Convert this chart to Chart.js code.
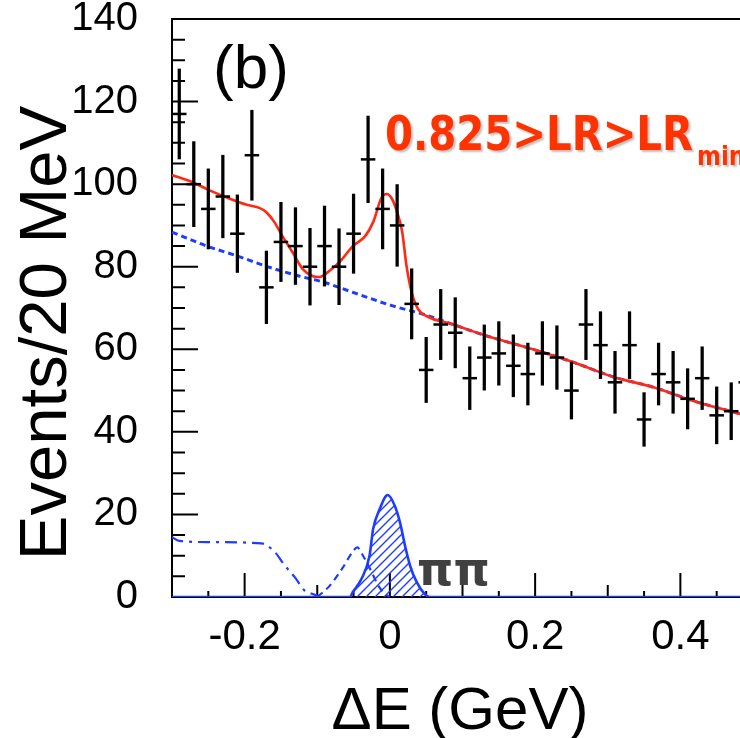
<!DOCTYPE html>
<html>
<head>
<meta charset="utf-8">
<script src="https://cdn.jsdelivr.net/npm/chart.js@4.4.1/dist/chart.umd.min.js"></script>
<style>
html,body{margin:0;padding:0;overflow:hidden;background:#fff;width:740px;height:738px;}
#wrap{position:absolute;left:0;top:0;width:765px;height:738px;}
canvas{display:block;}
</style>
</head>
<body>
<div id="wrap"><canvas id="c" width="765" height="738"></canvas></div>
<script>
// ---- data ----
const X_BINS = [-0.29,-0.27,-0.25,-0.23,-0.21,-0.19,-0.17,-0.15,-0.13,-0.11,
                -0.09,-0.07,-0.05,-0.03,-0.01,0.01,0.03,0.05,0.07,0.09,
                0.11,0.13,0.15,0.17,0.19,0.21,0.23,0.25,0.27,0.29,
                0.31,0.33,0.35,0.37,0.39,0.41,0.43,0.45,0.47,0.49];
const EVENTS = [117,100,94,97,88,107,75,86,85,80,
                85,80,88,106,94,90,71,55,66,64,
                53,58,59,56,54,59,58,50,66,61,
                52,61,43,54,52,48,53,44,45,52];
const ERRORS = [10.9,10.3,9.7,10,9.4,10.9,8.8,9.6,9.3,9.3,
                9.7,9.2,9.6,10.5,9.7,9.9,8.5,7.9,8.5,8.5,
                7.6,7.9,7.7,7.5,7.5,7.7,7.7,6.9,8.5,8.1,
                7.5,8.1,6.5,7.5,7.5,7.3,7.6,6.9,6.9,7.2];

// total fit (red)
const FIT_X = [-0.300,-0.272,-0.252,-0.225,-0.197,-0.179,-0.170,-0.159,-0.148,-0.134,
               -0.120,-0.106,-0.097,-0.083,-0.066,-0.051,-0.034,-0.023,-0.011,-0.004,
               0.003,0.010,0.017,0.023,0.030,0.039,0.051,0.087,0.134,0.197,
               0.252,0.308,0.363,0.418,0.473,0.500];
const FIT_Y = [102.2,100.5,98.8,96.8,95.0,94.2,93.2,90.8,87.4,83.5,
               79.4,77.7,77.5,79.0,81.8,85.0,87.4,90.8,96.9,97.6,
               96.4,93.2,88.4,80.1,73.8,69.7,68.0,66.0,63.2,60.0,
               56.9,53.3,50.8,47.5,44.8,43.5];

// background (blue dotted)
const BKG_X = [-0.300,-0.252,-0.210,-0.170,-0.124,-0.092,-0.051,0.004,0.046,
               0.087,0.134,0.197,0.252,0.308,0.363,0.418,0.473,0.500];
const BKG_Y = [88.4,85.0,82.6,80.1,77.7,76.3,73.8,70.5,68.5,
               66.0,63.2,60.0,56.9,53.3,50.8,47.5,44.8,43.5];

// pi pi signal (blue, hatched)
const PIPI_X = [-0.300,-0.055,-0.051,-0.039,-0.028,-0.023,-0.014,-0.003,0.007,0.014,
                0.021,0.028,0.037,0.048,0.055,0.500];
const PIPI_Y = [0,0,1.2,4.4,10.0,16.5,21.3,24.7,22.0,18.0,
                12.3,7.5,3.6,0.7,0,0];

// K pi reflection (blue dashed)
const KPI_X = [-0.100,-0.083,-0.066,-0.051,-0.045,-0.036,-0.025,-0.015,-0.005,0.000];
const KPI_Y = [0,2.7,6.8,11.0,12.0,9.7,6.0,2.5,0.5,0];

// other background component (blue dash-dot)
const OTH_X = [-0.300,-0.290,-0.250,-0.177,-0.159,-0.145,-0.131,-0.117,-0.106,-0.097];
const OTH_Y = [14.5,13.6,13.3,13.0,11.0,7.7,4.8,1.5,0.7,0];

const X_TICK_LABELS = [-0.2, 0, 0.2, 0.4];
const Y_TICK_LABELS = [0, 20, 40, 60, 80, 100, 120, 140];

// ---- styles ----
const RED = '#ff2a14';
const BLUE = '#1e3cff';

function pts(xs, ys){ return xs.map((x,i)=>({x:x, y:ys[i]})); }

function hatch(){
  const c = document.createElement('canvas');
  c.width = 9; c.height = 9;
  const g = c.getContext('2d');
  g.strokeStyle = BLUE; g.lineWidth = 1.4;
  g.beginPath();
  g.moveTo(-1, 10); g.lineTo(10, -1);
  g.moveTo(-1, 1); g.lineTo(1, -1);
  g.moveTo(8, 10); g.lineTo(10, 8);
  g.stroke();
  return g.createPattern(c, 'repeat');
}

const frame = {
  id: 'frame',
  beforeDatasetsDraw(chart){
    const {ctx, chartArea:a, scales:{x, y}} = chart;
    ctx.save();
    ctx.strokeStyle = '#000'; ctx.lineWidth = 2;
    ctx.beginPath();
    ctx.moveTo(a.left-1, a.top); ctx.lineTo(a.right, a.top);
    for (let k = 0; k <= 28; k++){
      const py = y.getPixelForValue(k*5);
      const len = (k % 4 === 0) ? 26 : 13;
      ctx.moveTo(a.left, py); ctx.lineTo(a.left+len, py);
    }
    for (let k = -6; k <= 10; k++){
      const px = x.getPixelForValue(k*0.05);
      const len = (k % 4 === 0) ? 24 : ((k % 2 === 0) ? 12 : 6);
      ctx.moveTo(px, a.bottom); ctx.lineTo(px, a.bottom-len);
    }
    ctx.stroke();
    ctx.restore();
  },
  afterDraw(chart){
    const ctx = chart.ctx;
    ctx.save();
    // y title
    ctx.fillStyle = '#000';
    ctx.font = '67px "Liberation Sans", Arial, sans-serif';
    ctx.translate(66, 333);
    ctx.rotate(-Math.PI/2);
    ctx.textAlign = 'center'; ctx.textBaseline = 'alphabetic';
    ctx.fillText('Events/20 MeV', 0, 0);
    ctx.restore();

    ctx.save();
    ctx.fillStyle = '#000';
    ctx.font = '60px "Liberation Sans", Arial, sans-serif';
    ctx.textAlign = 'center'; ctx.textBaseline = 'alphabetic';
    ctx.fillText('\u0394E (GeV)', 460, 729);

    ctx.textAlign = 'left';
    ctx.font = '62px "Liberation Sans", Arial, sans-serif';
    ctx.fillText('(b)', 213, 88);

    ctx.fillStyle = '#404040';
    ctx.font = 'bold 46px "DejaVu Sans", sans-serif';
    ctx.fillText('\u03c0\u03c0', 417, 585);

    // red label
    ctx.shadowColor = 'rgba(0,0,0,0.25)';
    ctx.shadowOffsetX = 2; ctx.shadowOffsetY = 2; ctx.shadowBlur = 2;
    ctx.fillStyle = '#ff3300';
    ctx.font = 'bold 48px "DejaVu Sans", sans-serif';
    const main = '0.825>LR>LR';
    const w = ctx.measureText(main).width;
    const sx = 308 / w;
    ctx.save();
    ctx.translate(385, 150);
    ctx.scale(sx, 1);
    ctx.fillText(main, 0, 0);
    ctx.restore();
    ctx.font = 'bold 27px "DejaVu Sans", sans-serif';
    ctx.save();
    ctx.translate(697, 165);
    ctx.scale(0.85, 1);
    ctx.fillText('min', 0, 0);
    ctx.restore();
    ctx.restore();
  }
};

const ctx = document.getElementById('c').getContext('2d');
new Chart(ctx, {
  type: 'scatter',
  data: {
    datasets: [
      { type:'scatter', label:'data', data: pts(X_BINS, EVENTS), showLine:false,
        pointStyle:'line', pointRadius:7.25, pointHoverRadius:7.25,
        borderColor:'#000', pointBorderWidth:2.5, borderWidth:2.5, order:1 },
      { type:'bar', label:'errors',
        data: X_BINS.map((x,i)=>({x:x, y:[EVENTS[i]-ERRORS[i], EVENTS[i]+ERRORS[i]]})),
        backgroundColor:'#000', borderWidth:0, barThickness:2.6, grouped:false, order:2 },
      { type:'line', label:'total fit', data: pts(FIT_X, FIT_Y), borderColor:RED,
        borderWidth:2.6, pointRadius:0, cubicInterpolationMode:'monotone', fill:false, order:3 },
      { type:'line', label:'background', data: pts(BKG_X, BKG_Y), borderColor:BLUE,
        borderWidth:3, borderDash:[6,4], pointRadius:0, cubicInterpolationMode:'monotone', fill:false, order:4 },
      { type:'line', label:'K pi', data: pts(KPI_X, KPI_Y), borderColor:BLUE,
        borderWidth:2.2, borderDash:[7,5], pointRadius:0, cubicInterpolationMode:'monotone', fill:false, order:5 },
      { type:'line', label:'other', data: pts(OTH_X, OTH_Y), borderColor:BLUE,
        borderWidth:2.2, borderDash:[12,6,3,6], pointRadius:0, cubicInterpolationMode:'monotone', fill:false, order:5 },
      { type:'line', label:'pi pi', data: pts(PIPI_X, PIPI_Y), borderColor:BLUE,
        borderWidth:2.6, pointRadius:0, cubicInterpolationMode:'monotone',
        fill:'origin', backgroundColor: hatch(), order:6 }
    ]
  },
  options: {
    responsive:false, animation:false, devicePixelRatio:1,
    layout:{ padding:{ top:19, left:0, right:12, bottom:0 } },
    plugins:{ legend:{display:false}, tooltip:{enabled:false} },
    scales:{
      x:{ type:'linear', min:-0.3, max:0.5, offset:false,
          afterFit(s){ s.height = 141; },
          afterBuildTicks(s){ s.ticks = X_TICK_LABELS.map(v=>({value:v})); },
          grid:{ display:true, drawOnChartArea:false, drawTicks:true, tickLength:15,
                 tickColor:'rgba(0,0,0,0)', offset:false },
          border:{ display:true, color:'#000', width:2 },
          ticks:{ autoSkip:false, maxRotation:0, padding:0, color:'#000',
                  font:{ family:'"Liberation Sans", Arial, sans-serif', size:42 },
                  callback(v){ return v === 0 ? '0' : (Math.round(v*10)/10).toFixed(1); } } },
      y:{ type:'linear', min:0, max:140,
          afterFit(s){ s.width = 172; },
          afterBuildTicks(s){ s.ticks = Y_TICK_LABELS.map(v=>({value:v})); },
          grid:{ display:true, drawOnChartArea:false, drawTicks:true, tickLength:34,
                 tickColor:'rgba(0,0,0,0)' },
          border:{ display:true, color:'#000', width:2 },
          ticks:{ padding:0, color:'#000',
                  font:{ family:'"Liberation Sans", Arial, sans-serif', size:40, lineHeight:0.8 },
                  callback(v){ return String(v); } } }
    }
  },
  plugins:[frame]
});
</script>
</body>
</html>
